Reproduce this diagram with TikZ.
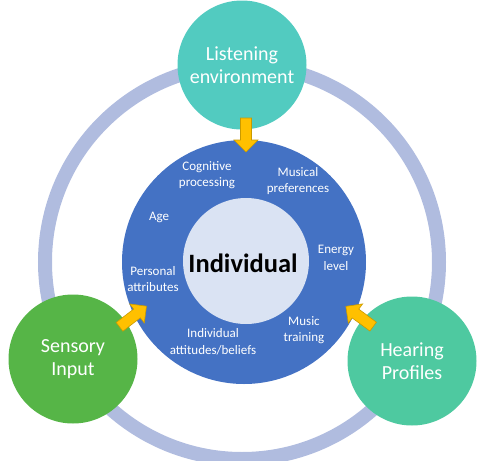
\documentclass[tikz,border=0pt]{standalone}
\usepackage{fontspec}
\setmainfont{Carlito}
\definecolor{ringc}{HTML}{B0BCDF}
\definecolor{bluec}{HTML}{4472C4}
\definecolor{innerc}{HTML}{DAE3F3}
\definecolor{tealc}{HTML}{52CBC0}
\definecolor{greenc}{HTML}{56B547}
\definecolor{hearc}{HTML}{4EC9A0}
\definecolor{arrowc}{HTML}{FFC000}
\definecolor{arrowd}{HTML}{C99A00}
\tikzset{
  outer/.style={circle, minimum size=129pt, inner sep=0pt, text=white, font=\fontsize{20}{23.5}\selectfont, align=center},
  lbl/.style={text=white, font=\fontsize{13}{16.5}\selectfont, align=center, inner sep=0pt},
  yarrow/.style={draw=arrowd, fill=arrowc, line width=0.6pt, line join=miter}
}
\begin{document}
\begin{tikzpicture}[x=1pt,y=-1pt]
\useasboundingbox (0,0) rectangle (480,461);
\coordinate (c) at (242,262);
\draw[ringc, line width=14pt] (c) circle[radius=197];
\node[circle, fill=bluec, minimum size=244pt, inner sep=0pt] (blue) at (244,262) {};
\node[circle, fill=innerc, minimum size=126pt, inner sep=0pt] (inner) at (246,261) {};
\node[font=\fontsize{26.5}{30}\selectfont\bfseries, inner sep=0pt] (ind) at (243,263) {Individual};
\node[outer, fill=tealc] (listen) at (242,65) {Listening\\environment};
\node[outer, fill=greenc] (sens) at (73,359) {Sensory\\Input};
\node[outer, fill=hearc] (hear) at (412,361) {Hearing\\Profiles};
\node[lbl] (cog) at (207,175) {Cognitive\\processing};
\node[lbl] (mus) at (298,181) {Musical\\preferences};
\node[lbl] (age) at (159,217) {Age};
\node[lbl] (energy) at (336,258) {Energy\\level};
\node[lbl] (pers) at (153,279) {Personal\\attributes};
\node[lbl] (train) at (304,330) {Music\\training};
\node[lbl] (att) at (213,342) {Individual\\attitudes/beliefs};
\coordinate (a1) at (246,135);
\coordinate (a2) at (133,316.5);
\coordinate (a3) at (359.5,316.5);
\foreach \p/\r in {a1/-90, a2/37.5, a3/143.4}{
  \draw[yarrow, shift={(\p)}, rotate=\r] (-17,-5.5) -- (5,-5.5) -- (5,-12) -- (17,0) -- (5,12) -- (5,5.5) -- (-17,5.5) -- cycle;
}
\end{tikzpicture}
\end{document}
